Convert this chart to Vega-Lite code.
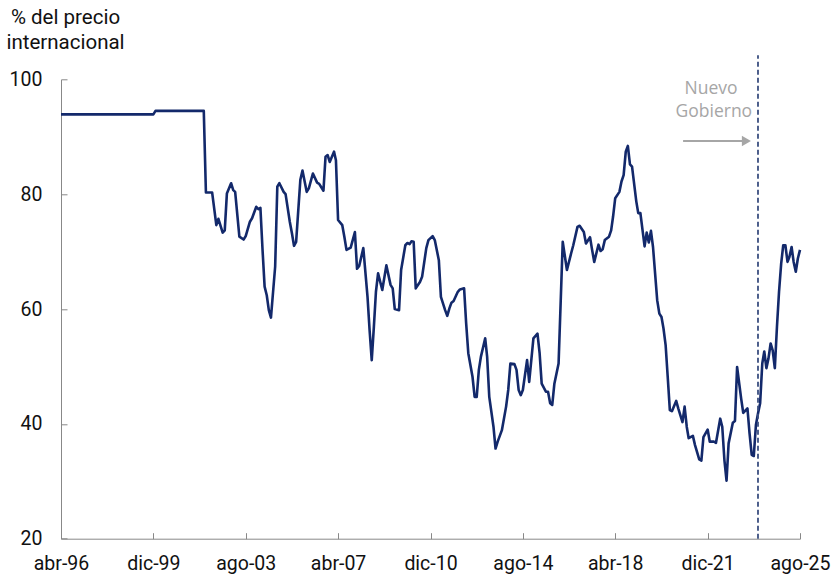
{
  "$schema": "https://vega.github.io/schema/vega-lite/v6.json",
  "width": 739,
  "height": 459.4,
  "autosize": {"type": "none"},
  "padding": {"left": 61, "top": 79.3, "right": 35, "bottom": 36.3},
  "background": "white",
  "config": {"view": {"stroke": null}, "font": "Roboto"},
  "datasets": {
    "serie": [
      {"d":"1996-04-01","v":93.9},{"d":"1999-12-01","v":93.9},{"d":"2000-01-01","v":94.5},{"d":"2001-12-01","v":94.5},
      {"d":"2002-01-01","v":80.3},{"d":"2002-04-01","v":80.3},{"d":"2002-06-01","v":74.6},{"d":"2002-07-01","v":75.7},
      {"d":"2002-09-01","v":73.3},{"d":"2002-10-01","v":73.7},{"d":"2002-11-01","v":80.1},{"d":"2003-01-01","v":81.9},
      {"d":"2003-02-01","v":80.7},{"d":"2003-03-01","v":80.4},{"d":"2003-05-01","v":72.6},{"d":"2003-07-01","v":72.1},
      {"d":"2003-08-01","v":72.7},{"d":"2003-10-01","v":75.2},{"d":"2003-11-01","v":75.8},{"d":"2004-01-01","v":77.8},
      {"d":"2004-02-01","v":77.4},{"d":"2004-03-01","v":77.6},{"d":"2004-04-01","v":70.3},{"d":"2004-05-01","v":63.9},
      {"d":"2004-06-01","v":62.4},{"d":"2004-07-01","v":59.8},{"d":"2004-08-01","v":58.5},{"d":"2004-10-01","v":67.4},
      {"d":"2004-11-01","v":81.3},{"d":"2004-12-01","v":81.9},{"d":"2005-02-01","v":80.4},{"d":"2005-03-01","v":80.0},
      {"d":"2005-05-01","v":75.2},{"d":"2005-06-01","v":73.2},{"d":"2005-07-01","v":71.0},{"d":"2005-08-01","v":71.7},
      {"d":"2005-10-01","v":82.5},{"d":"2005-11-01","v":84.1},{"d":"2006-01-01","v":80.4},{"d":"2006-02-01","v":81.0},
      {"d":"2006-04-01","v":83.6},{"d":"2006-06-01","v":82.0},{"d":"2006-07-01","v":81.8},{"d":"2006-09-01","v":80.6},
      {"d":"2006-10-01","v":86.5},{"d":"2006-11-01","v":86.8},{"d":"2006-12-01","v":85.6},{"d":"2007-02-01","v":87.4},
      {"d":"2007-03-01","v":85.9},{"d":"2007-04-01","v":75.5},{"d":"2007-06-01","v":74.6},{"d":"2007-07-01","v":72.6},
      {"d":"2007-08-01","v":70.3},{"d":"2007-10-01","v":70.7},{"d":"2007-12-01","v":73.4},{"d":"2008-01-01","v":67.0},
      {"d":"2008-02-01","v":67.5},{"d":"2008-04-01","v":70.6},{"d":"2008-06-01","v":62.1},{"d":"2008-07-01","v":56.3},
      {"d":"2008-08-01","v":51.1},{"d":"2008-09-01","v":56.9},{"d":"2008-10-01","v":63.0},{"d":"2008-11-01","v":66.2},
      {"d":"2009-01-01","v":63.3},{"d":"2009-03-01","v":67.6},{"d":"2009-05-01","v":64.2},{"d":"2009-06-01","v":63.6},
      {"d":"2009-07-01","v":60.0},{"d":"2009-09-01","v":59.8},{"d":"2009-10-01","v":66.8},{"d":"2009-12-01","v":71.1},
      {"d":"2010-01-01","v":71.5},{"d":"2010-02-01","v":71.3},{"d":"2010-03-01","v":71.8},{"d":"2010-04-01","v":71.7},
      {"d":"2010-05-01","v":63.6},{"d":"2010-07-01","v":64.7},{"d":"2010-08-01","v":65.6},{"d":"2010-10-01","v":70.6},
      {"d":"2010-11-01","v":72.0},{"d":"2011-01-01","v":72.7},{"d":"2011-02-01","v":72.0},{"d":"2011-04-01","v":68.5},
      {"d":"2011-05-01","v":62.1},{"d":"2011-07-01","v":59.8},{"d":"2011-08-01","v":58.8},{"d":"2011-09-01","v":60.1},
      {"d":"2011-10-01","v":61.1},{"d":"2011-11-01","v":61.4},{"d":"2012-01-01","v":63.0},{"d":"2012-02-01","v":63.4},
      {"d":"2012-04-01","v":63.6},{"d":"2012-05-01","v":57.5},{"d":"2012-06-01","v":52.3},{"d":"2012-08-01","v":48.2},
      {"d":"2012-09-01","v":44.7},{"d":"2012-10-01","v":44.7},{"d":"2012-11-01","v":49.4},{"d":"2012-12-01","v":51.7},
      {"d":"2013-02-01","v":54.9},{"d":"2013-03-01","v":51.7},{"d":"2013-04-01","v":44.7},{"d":"2013-06-01","v":39.5},
      {"d":"2013-07-01","v":35.7},{"d":"2013-08-01","v":36.9},{"d":"2013-10-01","v":38.9},{"d":"2013-12-01","v":43.0},
      {"d":"2014-01-01","v":45.9},{"d":"2014-02-01","v":50.5},{"d":"2014-04-01","v":50.4},{"d":"2014-05-01","v":49.4},
      {"d":"2014-06-01","v":45.9},{"d":"2014-07-01","v":45.0},{"d":"2014-08-01","v":45.9},{"d":"2014-10-01","v":51.1},
      {"d":"2014-11-01","v":47.3},{"d":"2015-01-01","v":54.9},{"d":"2015-03-01","v":55.7},{"d":"2015-04-01","v":52.3},
      {"d":"2015-05-01","v":47.0},{"d":"2015-07-01","v":45.6},{"d":"2015-08-01","v":45.6},{"d":"2015-09-01","v":43.6},
      {"d":"2015-10-01","v":43.3},{"d":"2015-11-01","v":47.0},{"d":"2016-01-01","v":50.5},{"d":"2016-03-01","v":71.7},
      {"d":"2016-05-01","v":66.8},{"d":"2016-07-01","v":69.7},{"d":"2016-08-01","v":71.1},{"d":"2016-10-01","v":74.3},
      {"d":"2016-11-01","v":74.5},{"d":"2017-01-01","v":73.4},{"d":"2017-02-01","v":71.4},{"d":"2017-04-01","v":72.5},
      {"d":"2017-05-01","v":70.3},{"d":"2017-06-01","v":68.2},{"d":"2017-08-01","v":71.2},{"d":"2017-09-01","v":70.1},
      {"d":"2017-10-01","v":70.4},{"d":"2017-11-01","v":72.0},{"d":"2018-01-01","v":72.6},{"d":"2018-02-01","v":73.7},
      {"d":"2018-03-01","v":76.1},{"d":"2018-04-01","v":79.3},{"d":"2018-06-01","v":80.4},{"d":"2018-07-01","v":82.2},
      {"d":"2018-08-01","v":83.3},{"d":"2018-09-01","v":87.4},{"d":"2018-10-01","v":88.4},{"d":"2018-11-01","v":85.2},
      {"d":"2018-12-01","v":84.8},{"d":"2019-02-01","v":78.7},{"d":"2019-03-01","v":76.7},{"d":"2019-04-01","v":76.7},
      {"d":"2019-06-01","v":70.9},{"d":"2019-07-01","v":73.3},{"d":"2019-08-01","v":71.6},{"d":"2019-09-01","v":73.6},
      {"d":"2019-10-01","v":70.8},{"d":"2019-12-01","v":61.5},{"d":"2020-01-01","v":59.2},{"d":"2020-02-01","v":58.6},
      {"d":"2020-03-01","v":56.6},{"d":"2020-04-01","v":53.7},{"d":"2020-05-01","v":48.2},{"d":"2020-06-01","v":42.4},
      {"d":"2020-07-01","v":42.2},{"d":"2020-09-01","v":44.0},{"d":"2020-10-01","v":42.7},{"d":"2020-12-01","v":40.3},
      {"d":"2021-01-01","v":43.0},{"d":"2021-02-01","v":39.5},{"d":"2021-03-01","v":37.5},{"d":"2021-05-01","v":37.9},
      {"d":"2021-06-01","v":36.3},{"d":"2021-08-01","v":33.8},{"d":"2021-09-01","v":33.6},{"d":"2021-10-01","v":37.7},
      {"d":"2021-12-01","v":39.0},{"d":"2022-01-01","v":36.9},{"d":"2022-03-01","v":36.9},{"d":"2022-04-01","v":36.7},
      {"d":"2022-06-01","v":40.9},{"d":"2022-07-01","v":39.5},{"d":"2022-08-01","v":33.7},{"d":"2022-09-01","v":30.1},
      {"d":"2022-10-01","v":36.6},{"d":"2022-12-01","v":40.2},{"d":"2023-01-01","v":40.5},{"d":"2023-02-01","v":49.9},
      {"d":"2023-04-01","v":44.4},{"d":"2023-05-01","v":41.9},{"d":"2023-07-01","v":42.7},{"d":"2023-08-01","v":38.3},
      {"d":"2023-09-01","v":34.6},{"d":"2023-10-01","v":34.4},{"d":"2023-11-01","v":39.8},{"d":"2023-12-01","v":41.8},
      {"d":"2024-01-01","v":43.6},{"d":"2024-02-01","v":50.5},{"d":"2024-03-01","v":52.6},{"d":"2024-04-01","v":49.7},
      {"d":"2024-05-01","v":51.4},{"d":"2024-06-01","v":54.0},{"d":"2024-07-01","v":52.8},{"d":"2024-08-01","v":49.7},
      {"d":"2024-09-01","v":56.9},{"d":"2024-10-01","v":63.0},{"d":"2024-11-01","v":67.9},{"d":"2024-12-01","v":71.1},
      {"d":"2025-01-01","v":71.1},{"d":"2025-02-01","v":68.2},{"d":"2025-03-01","v":69.1},{"d":"2025-04-01","v":70.8},
      {"d":"2025-05-01","v":68.2},{"d":"2025-06-01","v":66.5},{"d":"2025-07-01","v":68.8},{"d":"2025-08-01","v":70.3}
    ],
    "gov": [{"d":"2023-12-01","y1":20,"y2":104.2}],
    "arrow": [{"d1":"2020-12-10","d2":"2023-05-25","y":89.26}],
    "head": [{"d":"2023-06-16","y":89.26}],
    "labels": [
      {"d":"2022-01-19","y":97.39,"t":"Nuevo"},
      {"d":"2022-03-01","y":93.49,"t":"Gobierno"}
    ]
  },
  "layer": [
    {
      "data": {"name": "serie"},
      "mark": {"type": "line", "color": "#13296b", "strokeWidth": 2.6, "strokeJoin": "round"},
      "encoding": {
        "x": {
          "field": "d", "type": "temporal",
          "scale": {"type": "utc", "domain": [{"year":1996,"month":4,"date":1,"utc":true},{"year":2025,"month":8,"date":1,"utc":true}], "nice": false},
          "axis": {
            "title": null,
            "values": [
              {"year":1996,"month":4,"date":1,"utc":true},
              {"year":1999,"month":12,"date":1,"utc":true},
              {"year":2003,"month":8,"date":1,"utc":true},
              {"year":2007,"month":4,"date":1,"utc":true},
              {"year":2010,"month":12,"date":1,"utc":true},
              {"year":2014,"month":8,"date":1,"utc":true},
              {"year":2018,"month":4,"date":1,"utc":true},
              {"year":2021,"month":12,"date":1,"utc":true},
              {"year":2025,"month":8,"date":1,"utc":true}
            ],
            "labelExpr": "['ene','feb','mar','abr','may','jun','jul','ago','sep','oct','nov','dic'][utcmonth(datum.value)] + '-' + utcFormat(datum.value, '%y')",
            "labelFont": "Roboto", "labelFontSize": 19.5, "labelColor": "#111",
            "labelFlush": false, "labelOverlap": false,
            "tickSize": -6, "labelPadding": 22,
            "domainColor": "#888", "tickColor": "#888", "grid": false
          }
        },
        "y": {
          "field": "v", "type": "quantitative",
          "scale": {"domain": [20, 100], "nice": false, "zero": false},
          "axis": {
            "values": [20, 40, 60, 80, 100],
            "title": ["% del precio", "internacional"],
            "titleAngle": 0, "titleAlign": "center", "titleBaseline": "alphabetic",
            "titleX": 4, "titleY": -56, "titleFont": "Roboto", "titleFontSize": 20.5,
            "titleFontWeight": "normal", "titleColor": "#111", "titleLineHeight": 25,
            "labelFont": "Roboto", "labelFontSize": 19.5, "labelColor": "#111",
            "labelFlush": false, "labelOverlap": false,
            "tickSize": -6, "labelPadding": 25,
            "domainColor": "#888", "tickColor": "#888", "grid": false
          }
        }
      }
    },
    {
      "data": {"name": "gov"},
      "mark": {"type": "rule", "color": "#3b4f80", "strokeWidth": 1.8, "strokeDash": [5, 3]},
      "encoding": {
        "x": {"field": "d", "type": "temporal"},
        "y": {"field": "y1", "type": "quantitative"},
        "y2": {"field": "y2"}
      }
    },
    {
      "data": {"name": "arrow"},
      "mark": {"type": "rule", "color": "#a6a6a6", "strokeWidth": 2},
      "encoding": {
        "x": {"field": "d1", "type": "temporal"},
        "x2": {"field": "d2"},
        "y": {"field": "y", "type": "quantitative"}
      }
    },
    {
      "data": {"name": "head"},
      "mark": {"type": "point", "shape": "triangle-right", "filled": true, "color": "#a6a6a6", "size": 110, "opacity": 1},
      "encoding": {
        "x": {"field": "d", "type": "temporal"},
        "y": {"field": "y", "type": "quantitative"}
      }
    },
    {
      "data": {"name": "labels"},
      "mark": {"type": "text", "font": "Open Sans", "fontSize": 17.5, "color": "#a6a6a6", "align": "center", "baseline": "alphabetic"},
      "encoding": {
        "x": {"field": "d", "type": "temporal"},
        "y": {"field": "y", "type": "quantitative"},
        "text": {"field": "t"}
      }
    }
  ]
}
